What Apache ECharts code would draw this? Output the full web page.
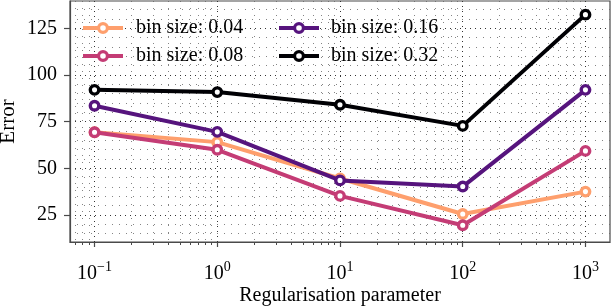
<!DOCTYPE html>
<html>
<head>
<meta charset="utf-8">
<script src="https://cdn.jsdelivr.net/npm/echarts@6/dist/echarts.min.js"></script>
<style>html,body{margin:0;padding:0;background:#fff;}#c{width:612px;height:306px;}</style>
</head>
<body>
<div id="c"></div>
<script>
// ---- data ----
const regParams = [0.1, 1, 10, 100, 1000];
const seriesNames = ['bin size: 0.04', 'bin size: 0.08', 'bin size: 0.16', 'bin size: 0.32'];
const bin004 = [69.3, 64.0, 44.5, 25.5, 37.5];
const bin008 = [69.3, 59.9, 35.2, 19.5, 59.3];
const bin016 = [83.5, 69.5, 43.5, 40.2, 92.0];
const bin032 = [92.0, 90.8, 84.0, 72.7, 132.3];
const xMajorTicks = [0.1, 1, 10, 100, 1000];
const xMinorTicks = [0.07, 0.08, 0.09, 0.2, 0.3, 0.4, 0.5, 0.6, 0.7, 0.8, 0.9,
  2, 3, 4, 5, 6, 7, 8, 9, 20, 30, 40, 50, 60, 70, 80, 90,
  200, 300, 400, 500, 600, 700, 800, 900];
const yMajorTicks = [25, 50, 75, 100, 125];
const yMinorTicks = [15, 20, 30, 35, 40, 45, 55, 60, 65, 70, 80, 85, 90, 95, 105, 110, 115, 120, 130, 135];
const colors = ['#fe9f6d', '#c43c75', '#56147d', '#000004'];

const FONT = "'Liberation Serif', 'DejaVu Serif', serif";
const AX = '#4a4a4a';
const xMin = Math.pow(10, -1.2), xMax = Math.pow(10, 3.2);
const yMin = 10.5, yMax = 139.6;

const allData = [bin004, bin008, bin016, bin032];
const series = allData.map((vals, i) => ({
  name: seriesNames[i],
  type: 'line',
  xAxisIndex: 0, yAxisIndex: 0,
  data: regParams.map((x, j) => [x, vals[j]]),
  symbol: 'circle',
  symbolSize: 8.5,
  showSymbol: true,
  lineStyle: { color: colors[i], width: 4 },
  itemStyle: { color: '#ffffff', borderColor: colors[i], borderWidth: 3.4 },
  emphasis: { disabled: true },
  animation: false,
  z: 3 + i
}));

function supLabel(v) {
  const e = Math.round(Math.log10(v));
  const s = e < 0 ? '\u2212' + Math.abs(e) : String(e);
  return '{b|10}{s|' + s + '}';
}

const legendText = { fontFamily: FONT, fontSize: 20, color: '#000', lineHeight: 20 };

const option = {
  animation: false,
  backgroundColor: '#ffffff',
  grid: { left: 70, right: 2, top: 1, bottom: 64, show: true, borderColor: AX, borderWidth: 1.2, backgroundColor: 'transparent', containLabel: false, outerBoundsMode: 'none' },
  legend: [
    {
      data: [seriesNames[0], seriesNames[1]],
      orient: 'vertical', left: 76, top: 13, padding: 5,
      itemWidth: 40, itemHeight: 11, itemGap: 8,
      lineStyle: { width: 4 },
      itemStyle: { borderWidth: 3.2 },
      textStyle: Object.assign({}, legendText, { padding: [0, 0, 0, 8] }),
      selectedMode: false
    },
    {
      data: [seriesNames[2], seriesNames[3]],
      orient: 'vertical', left: 272, top: 13, padding: 5,
      itemWidth: 40, itemHeight: 11, itemGap: 8,
      lineStyle: { width: 4 },
      itemStyle: { borderWidth: 3.2 },
      textStyle: Object.assign({}, legendText, { padding: [0, 0, 0, 7] }),
      selectedMode: false
    }
  ],
  xAxis: [
    {
      type: 'log', logBase: 10, min: xMin, max: xMax, position: 'bottom',
      name: 'Regularisation parameter', nameLocation: 'middle', nameGap: 44, nameMoveOverlap: false,
      nameTextStyle: { fontFamily: FONT, fontSize: 20, color: '#000' },
      axisLine: { show: true, lineStyle: { color: AX, width: 1.2 } },
      axisTick: { show: true, length: 5, lineStyle: { color: AX, width: 1.2 }, customValues: xMajorTicks },
      axisLabel: {
        customValues: xMajorTicks, margin: 18, formatter: supLabel,
        rich: {
          b: { fontFamily: FONT, fontSize: 20, color: '#000', lineHeight: 24, verticalAlign: 'bottom' },
          s: { fontFamily: FONT, fontSize: 14, color: '#000', lineHeight: 10, verticalAlign: 'top' }
        }
      },
      splitLine: { show: true, lineStyle: { color: '#333', width: 1, type: [1, 4] } },
      minorTick: { show: false }, minorSplitLine: { show: false }
    },
    {
      type: 'log', logBase: 10, min: xMin, max: xMax, position: 'bottom',
      axisLine: { show: false },
      axisTick: { show: true, length: 3, lineStyle: { color: AX, width: 1 }, customValues: xMinorTicks },
      axisLabel: { show: false },
      splitLine: { show: true, lineStyle: { color: '#666', width: 0.8, type: [1, 6] } }
    }
  ],
  yAxis: [
    {
      type: 'value', min: yMin, max: yMax, position: 'left',
      name: 'Error', nameLocation: 'middle', nameGap: 51, nameMoveOverlap: false,
      nameTextStyle: { fontFamily: FONT, fontSize: 21, color: '#000' },
      axisLine: { show: true, lineStyle: { color: AX, width: 1.2 } },
      axisTick: { show: true, length: 6, lineStyle: { color: AX, width: 1.2 }, customValues: yMajorTicks },
      axisLabel: { customValues: yMajorTicks, margin: 13, fontFamily: FONT, fontSize: 20, color: '#000' },
      splitLine: { show: true, lineStyle: { color: '#333', width: 1, type: [1, 4] } }
    },
    {
      type: 'value', min: yMin, max: yMax, position: 'left',
      axisLine: { show: false },
      axisTick: { show: false, customValues: yMinorTicks },
      axisLabel: { show: false },
      splitLine: { show: true, lineStyle: { color: '#666', width: 0.8, type: [1, 6] } }
    }
  ],
  series: series
};

const chart = echarts.init(document.getElementById('c'), null, { renderer: 'canvas' });
chart.setOption(option);
</script>
</body>
</html>
